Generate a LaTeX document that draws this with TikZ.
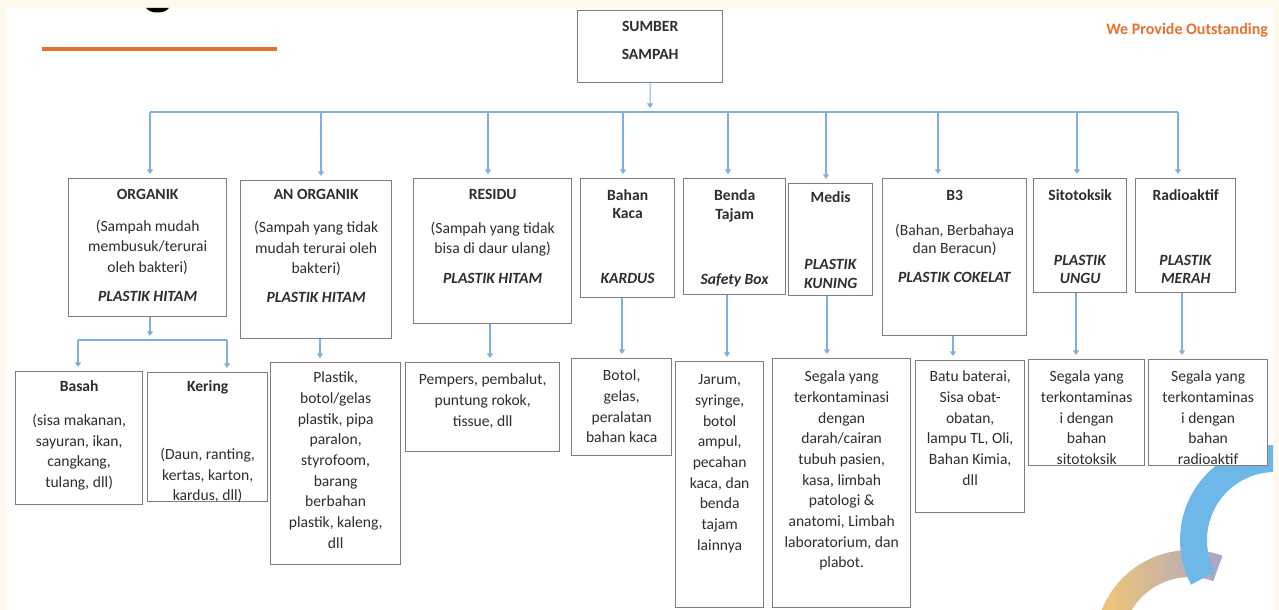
\documentclass[tikz,border=0pt]{standalone}
\usepackage{fontspec}
\setmainfont{Carlito}
\usepackage{xcolor}
\usepackage{tikz}
\usetikzlibrary{arrows.meta}

\definecolor{cream}{HTML}{FFF8EC}
\definecolor{boxgray}{HTML}{7E7E7E}
\definecolor{linkblue}{HTML}{7FB0DD}
\definecolor{txt}{HTML}{2E2E2E}
\definecolor{brandorange}{HTML}{E4732F}
\definecolor{logoblue}{HTML}{6DB8E8}
\definecolor{logopurple}{HTML}{A9A5C6}
\definecolor{logoyellow}{HTML}{F4C673}

\newdimen\mypx \mypx=0.75pt
% box text: width, height, first baseline (all px), lines
\newcommand{\boxtext}[4]{\parbox[t][#2\mypx][t]{#1\mypx}{\centering\rule{0pt}{#3\mypx}#4}}

\begin{document}
\begin{tikzpicture}[x=0.75pt,y=-0.75pt,
  wbox/.style={draw=boxgray, line width=1pt, fill=white, inner sep=0pt, anchor=north west,
    text=txt, font=\fontsize{11.7}{15.5}\selectfont},
  link/.style={draw=linkblue, line width=0.8pt},
  tip/.style={-{Triangle[width=4.5pt,length=3.5pt]}, shorten >=3pt}]

% Slide background
\useasboundingbox (0,0) rectangle (1279,610);
\fill[cream] (0,0) rectangle (1279,610);
\fill[white] (6,8) rectangle (1273,610);

% Logo pieces
\fill[black] (146,8) .. controls (150,14) and (165,14) .. (169,8) -- cycle;
\draw[brandorange, line width=3.5pt] (42,49) -- (277,49);
\node[font=\bfseries\fontsize{12}{14}\selectfont, text=brandorange, anchor=west, inner sep=0pt]
  (slogan) at (1106,30) {We Provide Outstanding};

\begin{scope}
\clip (6,8) rectangle (1273,610);
\path[left color=logoyellow, right color=logopurple, shift={(1190,645)}]
  (-165:95) arc[start angle=-165, end angle=-70, radius=95]
  -- (-70:68) arc[start angle=-70, end angle=-165, radius=68] -- cycle;
\fill[logoblue, shift={(1275,540)}]
  (-60:95) arc[start angle=-60, end angle=-208, radius=95]
  -- (-208:68) arc[start angle=-208, end angle=-60, radius=68] -- cycle;
\end{scope}

% Root
\node[wbox] (sumber) at (577,10) {\boxtext{145}{72}{21}{\textbf{SUMBER}\\[7\mypx] \textbf{SAMPAH}}};

% First level
\node[wbox] (organik) at (68,178) {\boxtext{158}{138}{21}{\textbf{ORGANIK}\\[11\mypx]
  (Sampah mudah\\ membusuk/terurai\\ oleh bakteri)\\[8\mypx] \textbf{\textit{PLASTIK HITAM}}}};
\node[wbox] (anorganik) at (240,180) {\boxtext{151}{158}{19}{\textbf{AN ORGANIK}\\[12\mypx]
  (Sampah yang tidak\\ mudah terurai oleh\\ bakteri)\\[8\mypx] \textbf{\textit{PLASTIK HITAM}}}};
\node[wbox] (residu) at (413,178) {\boxtext{158}{145}{21}{\textbf{RESIDU}\\[13\mypx]
  (Sampah yang tidak\\ bisa di daur ulang)\\[9\mypx] \textbf{\textit{PLASTIK HITAM}}}};
\node[wbox] (kaca) at (580,178) {\boxtext{94}{119}{22}{\textbf{Bahan}\\[-3\mypx] \textbf{Kaca}\\[44\mypx]
  \textbf{\textit{KARDUS}}}};
\node[wbox] (tajam) at (683,178) {\boxtext{102}{116}{22}{\textbf{Benda}\\[-2\mypx] \textbf{Tajam}\\[44\mypx]
  \textbf{\textit{Safety Box}}}};
\node[wbox] (medis) at (788,183) {\boxtext{84}{112}{19}{\textbf{Medis}\\[46\mypx]
  \textbf{\textit{PLASTIK}}\\[-1\mypx] \textbf{\textit{KUNING}}}};
\node[wbox] (bthree) at (882,178) {\boxtext{144}{157}{22}{\textbf{B3}\\[14\mypx]
  (Bahan, Berbahaya\\[-3\mypx] dan Beracun)\\[9\mypx] \textbf{\textit{PLASTIK COKELAT}}}};
\node[wbox] (sito) at (1033,178) {\boxtext{93}{114}{22}{\textbf{Sitotoksik}\\[44\mypx]
  \textbf{\textit{PLASTIK}}\\[-3\mypx] \textbf{\textit{UNGU}}}};
\node[wbox] (radio) at (1135,178) {\boxtext{100}{114}{22}{\textbf{Radioaktif}\\[44\mypx]
  \textbf{\textit{PLASTIK}}\\[-3\mypx] \textbf{\textit{MERAH}}}};

% Second level
\node[wbox] (basah) at (15,371) {\boxtext{127}{133}{20}{\textbf{Basah}\\[13\mypx]
  (sisa makanan,\\ sayuran, ikan,\\ cangkang,\\ tulang, dll)}};
\node[wbox] (kering) at (147,372) {\boxtext{120}{129}{19}{\textbf{Kering}\\[47\mypx]
  (Daun, ranting,\\ kertas, karton,\\ kardus, dll)}};
\node[wbox] (plastik) at (270,362) {\boxtext{130}{202}{20}{Plastik,\\ botol/gelas\\ plastik, pipa\\
  paralon,\\ styrofoom,\\ barang\\ berbahan\\ plastik, kaleng,\\ dll}};
\node[wbox] (pempers) at (405,362) {\boxtext{154}{89}{22}{Pempers, pembalut,\\ puntung rokok,\\ tissue, dll}};
\node[wbox] (botol) at (571,358) {\boxtext{100}{97}{22}{Botol,\\ gelas,\\ peralatan\\ bahan kaca}};
\node[wbox] (jarum) at (675,361) {\boxtext{88}{246}{23}{Jarum,\\ syringe,\\ botol\\ ampul,\\ pecahan\\
  kaca, dan\\ benda\\ tajam\\ lainnya}};
\node[wbox] (segala) at (772,358) {\boxtext{138}{249}{23}{Segala yang\\ terkontaminasi\\ dengan\\
  darah/cairan\\ tubuh pasien,\\ kasa, limbah\\ patologi \&\\ anatomi, Limbah\\ laboratorium, dan\\ plabot.}};
\node[wbox] (baterai) at (915,360) {\boxtext{109}{152}{21}{Batu baterai,\\ Sisa obat-\\ obatan,\\
  lampu TL, Oli,\\ Bahan Kimia,\\ dll}};
\node[wbox] (sitoisi) at (1028,359) {\boxtext{116}{106}{22}{Segala yang\\ terkontaminas\\ i dengan\\ bahan\\ sitotoksik}};
\node[wbox] (radioisi) at (1148,359) {\boxtext{119}{106}{22}{Segala yang\\ terkontaminas\\ i dengan\\ bahan\\ radioaktif}};

% Connectors
\coordinate (bus) at (650,112);
\draw[link,tip] (sumber.south) -- (bus);
\draw[link] (bus -| 150,0) -- (bus -| 1178,0);
\foreach \n/\x in {organik/150, anorganik/321, residu/488, kaca/623, tajam/728, medis/826,
  bthree/938, sito/1077, radio/1178}
  \draw[link,tip] (bus -| \x,0) -- (\n.north -| \x,0);

\foreach \p/\c/\x in {anorganik/plastik/320, residu/pempers/490, kaca/botol/622, tajam/jarum/727,
  medis/segala/827, bthree/baterai/953, sito/sitoisi/1076, radio/radioisi/1182}
  \draw[link,tip] (\p.south -| \x,0) -- (\c.north -| \x,0);

\coordinate (split) at (150,340);
\draw[link,tip] (organik.south -| split) -- (split);
\draw[link] (split -| 78,0) -- (split -| 227,0);
\draw[link,tip] (split -| 78,0) -- (basah.north -| 78,0);
\draw[link,tip] (split -| 227,0) -- (kering.north -| 227,0);

\end{tikzpicture}
\end{document}
